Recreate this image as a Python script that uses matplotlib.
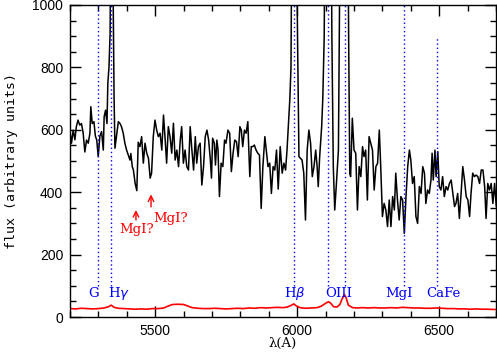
"""
Spectrum plot: flux vs wavelength, with line identifications
"""

import matplotlib
matplotlib.use('Agg')
import matplotlib.pyplot as plt
from matplotlib.ticker import MultipleLocator

# 観測スペクトル（黒線）: 波長[A], フラックス
spec_wave = [
    5200, 5205, 5211, 5217, 5222, 5228, 5234, 5240, 5246, 5252, 5258, 5264,
    5270, 5273, 5278, 5284, 5289, 5294, 5299, 5305, 5311, 5317, 5320, 5325,
    5330, 5333, 5337, 5341, 5344, 5348, 5351, 5355, 5358, 5370, 5376, 5381,
    5387, 5393, 5399, 5405, 5411, 5414, 5419, 5423, 5429, 5435, 5440, 5446,
    5452, 5458, 5464, 5470, 5476, 5482, 5487, 5493, 5499, 5505, 5511, 5517,
    5523, 5529, 5535, 5540, 5546, 5552, 5558, 5564, 5570, 5576, 5582, 5588,
    5593, 5599, 5605, 5611, 5617, 5623, 5629, 5635, 5641, 5646, 5652, 5658,
    5664, 5670, 5676, 5682, 5688, 5694, 5698, 5702, 5708, 5712, 5717, 5721,
    5726, 5732, 5738, 5744, 5749, 5756, 5762, 5768, 5774, 5780, 5786, 5792,
    5798, 5803, 5808, 5814, 5820, 5826, 5829, 5833, 5838, 5843, 5849, 5855,
    5861, 5867, 5873, 5879, 5886, 5891, 5897, 5903, 5909, 5915, 5921, 5927,
    5933, 5940, 5947, 5953, 5959, 5964, 5970, 5974, 5978, 5982, 5996, 6001,
    6006, 6017, 6023, 6029, 6035, 6041, 6047, 6053, 6059, 6065, 6070, 6074,
    6079, 6086, 6090, 6095, 6099, 6118, 6122, 6127, 6132, 6138, 6145, 6149,
    6152, 6177, 6181, 6185, 6188, 6194, 6200, 6206, 6212, 6218, 6224, 6230,
    6235, 6241, 6247, 6253, 6259, 6265, 6271, 6277, 6283, 6289, 6294, 6300,
    6306, 6312, 6318, 6324, 6330, 6336, 6342, 6347, 6353, 6359, 6365, 6371,
    6377, 6383, 6389, 6395, 6400, 6406, 6412, 6418, 6424, 6430, 6436, 6442,
    6448, 6453, 6459, 6465, 6471, 6475, 6479, 6485, 6489, 6495, 6500, 6506,
    6512, 6518, 6524, 6530, 6536, 6542, 6548, 6554, 6559, 6565, 6571, 6577,
    6583, 6589, 6595, 6601, 6607, 6612, 6618, 6624, 6630, 6636, 6642, 6648,
    6654, 6660, 6665, 6671, 6677, 6683, 6689, 6695, 6701, 6707,
]
spec_flux = [
    593, 557, 599, 568, 610, 631, 615, 620, 590, 529, 567, 557,
    590, 674, 620, 626, 580, 567, 514, 580, 594, 535, 642, 663,
    620, 750, 800, 910, 1400, 1400, 1100, 700, 541, 626, 620, 610,
    590, 557, 535, 519, 503, 524, 482, 471, 429, 405, 560, 546,
    578, 493, 557, 525, 509, 445, 461, 578, 631, 599, 578, 589,
    535, 647, 567, 493, 610, 578, 525, 621, 503, 535, 482, 567,
    610, 493, 535, 482, 471, 610, 535, 471, 578, 493, 546, 557,
    423, 482, 578, 599, 567, 503, 445, 573, 557, 487, 567, 535,
    386, 493, 482, 567, 557, 599, 589, 466, 525, 567, 562, 514,
    610, 599, 546, 599, 589, 626, 546, 450, 546, 546, 551, 535,
    525, 519, 348, 482, 578, 535, 482, 493, 396, 482, 471, 535,
    410, 546, 461, 493, 471, 535, 631, 700, 800, 1400, 1400, 900,
    514, 503, 461, 311, 535, 599, 557, 450, 482, 535, 482, 418,
    514, 610, 700, 900, 1500, 1500, 900, 482, 343, 428, 535, 1000,
    1500, 1500, 900, 460, 450, 637, 535, 525, 343, 482, 450, 546,
    514, 535, 375, 578, 557, 535, 407, 482, 493, 599, 482, 322,
    364, 343, 290, 375, 290, 386, 343, 461, 375, 311, 386, 375,
    268, 386, 482, 535, 503, 428, 450, 322, 300, 418, 396, 482,
    461, 364, 407, 396, 439, 525, 439, 535, 450, 530, 418, 407,
    450, 386, 418, 407, 428, 439, 396, 354, 364, 396, 316, 396,
    482, 439, 386, 375, 322, 396, 461, 450, 455, 450, 428, 471,
    471, 418, 316, 428, 407, 428, 364, 428, 354, 407,
]

# 誤差スペクトル（赤線）
err_wave = [
    5200, 5220, 5240, 5260, 5280, 5300, 5320, 5335, 5345, 5355, 5370, 5390,
    5410, 5430, 5450, 5470, 5490, 5510, 5530, 5545, 5560, 5580, 5600, 5615,
    5630, 5650, 5670, 5690, 5710, 5730, 5750, 5770, 5790, 5810, 5830, 5850,
    5870, 5890, 5910, 5930, 5950, 5965, 5978, 5988, 5996, 6010, 6030, 6050,
    6070, 6085, 6100, 6110, 6118, 6128, 6140, 6150, 6158, 6166, 6172, 6180,
    6195, 6210, 6230, 6250, 6270, 6290, 6310, 6330, 6350, 6370, 6390, 6410,
    6430, 6450, 6470, 6490, 6510, 6530, 6550, 6570, 6590, 6610, 6630, 6650,
    6670, 6700,
]
err_flux = [
    27, 26, 28, 27, 26, 27, 29, 33, 38, 31, 28, 27,
    26, 25, 26, 25, 27, 27, 29, 35, 40, 41, 40, 35,
    30, 28, 27, 27, 28, 27, 26, 27, 28, 27, 29, 28,
    30, 29, 30, 31, 30, 32, 37, 42, 36, 30, 28, 29,
    30, 35, 44, 49, 44, 33, 32, 40, 58, 72, 62, 38,
    30, 29, 30, 29, 30, 29, 29, 30, 29, 31, 30, 29,
    29, 28, 28, 29, 28, 27, 27, 26, 26, 25, 26, 25,
    25, 24,
]

# 輝線・吸収線の同定（波長, 上端, ラベル, ラベル中心x）
line_wave = [5299, 5345, 5987, 6109, 6168, 6376, 6491]
line_top = [1000, 1000, 1000, 1000, 1000, 1000, 900]
label_text = ['G', r'H$\gamma$', r'H$\beta$', 'OIII', 'MgI', 'CaFe']
label_x = [5284, 5372, 5990, 6145, 6357, 6515]
LINE_BOTTOM = 100
LABEL_Y = 76

# 赤矢印（MgI?）
arrow_x = [5432, 5485]
arrow_tail = [311, 353]
arrow_head = [343, 393]
arrow_text_xy = [(5434, 279), (5553, 317)]

fig = plt.figure(figsize=(4.97, 3.55), dpi=100)
ax = fig.add_axes([0.141, 0.107, 0.857, 0.879])

ax.plot(spec_wave, spec_flux, color='black', linewidth=1.1)
ax.plot(err_wave, err_flux, color='red', linewidth=1.2)

for wl, top in zip(line_wave, line_top):
    ax.plot([wl, wl], [LINE_BOTTOM, top], color='blue', linewidth=1.0,
            linestyle=(0, (1, 2)))

serif = 'DejaVu Serif'
for txt, lx in zip(label_text, label_x):
    ax.text(lx, LABEL_Y, txt, color='blue', fontsize=9.5, family=serif,
            ha='center', va='center')

for ax_x, tail, head, (tx, ty) in zip(arrow_x, arrow_tail, arrow_head, arrow_text_xy):
    ax.annotate('', xy=(ax_x, head), xytext=(ax_x, tail),
                arrowprops=dict(arrowstyle='->', color='red', lw=1.0,
                                shrinkA=0, shrinkB=0))
    ax.text(tx, ty, 'MgI?', color='red', fontsize=9.5, family=serif,
            ha='center', va='center')

ax.set_xlim(5200, 6700)
ax.set_ylim(0, 1000)
ax.xaxis.set_major_locator(MultipleLocator(500))
ax.xaxis.set_minor_locator(MultipleLocator(100))
ax.yaxis.set_major_locator(MultipleLocator(200))
ax.yaxis.set_minor_locator(MultipleLocator(50))
ax.tick_params(which='both', direction='in', top=True, right=True, width=1)
ax.tick_params(which='major', length=8, labelsize=10, pad=5)
ax.tick_params(which='minor', length=4)
for lab in ax.get_xticklabels() + ax.get_yticklabels():
    lab.set_family('Liberation Sans')
for sp in ax.spines.values():
    sp.set_linewidth(1.0)

ax.set_xlabel('λ(A)', fontsize=9.5, family=serif, labelpad=-1)
ax.set_ylabel('flux (arbitrary units)', fontsize=9.5, family='DejaVu Sans Mono',
              labelpad=10)

fig.savefig('out.png', dpi=100)
